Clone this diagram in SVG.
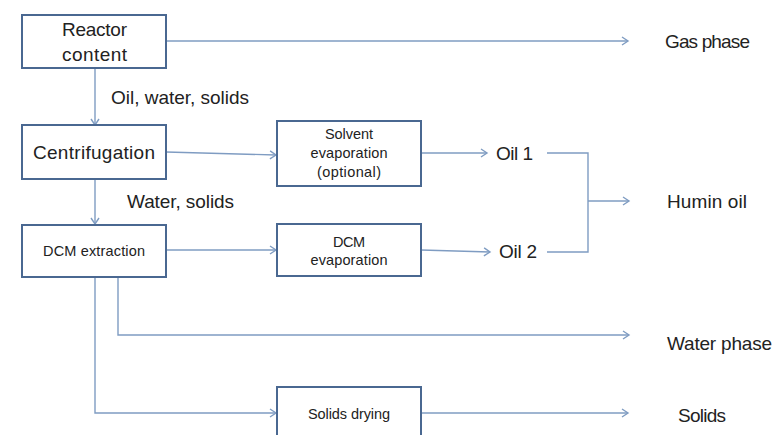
<svg xmlns="http://www.w3.org/2000/svg" width="774" height="435" viewBox="0 0 774 435">
<defs>
<marker id="arr" markerWidth="10" markerHeight="10" refX="8" refY="5" orient="auto" markerUnits="userSpaceOnUse">
<path d="M2,1 L8,5 L2,9" fill="none" stroke="#7f9cc2" stroke-width="1.4"/>
</marker>
</defs>
<style>
.box{fill:#fff;stroke:#4a6891;stroke-width:2}
.c{fill:none;stroke:#7f9cc2;stroke-width:1.4}
.L{font-family:"Liberation Sans",Arial,sans-serif;font-size:19px;fill:#222}
.S{font-family:"Liberation Sans",Arial,sans-serif;font-size:14.5px;fill:#222}
</style>
<rect width="774" height="435" fill="#fff"/>
<g id="connectors">
<path class="c" d="M166,41 H628" marker-end="url(#arr)"/>
<path class="c" d="M95,68 V125" marker-end="url(#arr)"/>
<path class="c" d="M166,152 L276,155" marker-end="url(#arr)"/>
<path class="c" d="M95,179 V224" marker-end="url(#arr)"/>
<path class="c" d="M421,153 H487" marker-end="url(#arr)"/>
<path class="c" d="M166,250 H276" marker-end="url(#arr)"/>
<path class="c" d="M421,250 L490,252" marker-end="url(#arr)"/>
<path class="c" d="M547,153 H588 V252 H547"/>
<path class="c" d="M588,201 H629" marker-end="url(#arr)"/>
<path class="c" d="M118,277 V335 H629" marker-end="url(#arr)"/>
<path class="c" d="M95,277 V413 H276" marker-end="url(#arr)"/>
<path class="c" d="M421,413 H628" marker-end="url(#arr)"/>
</g>
<g id="reactor">
<rect class="box" x="22" y="15" width="144" height="53"/>
<text class="L" x="94.5" y="36" text-anchor="middle" textLength="65">Reactor</text>
<text class="L" x="94.5" y="61" text-anchor="middle" textLength="65">content</text>
</g>
<g id="centrifugation">
<rect class="box" x="22" y="125" width="144" height="54"/>
<text class="L" x="94" y="159" text-anchor="middle" textLength="122">Centrifugation</text>
</g>
<g id="dcm-extraction">
<rect class="box" x="22" y="225" width="144" height="52"/>
<text class="S" x="94" y="256" text-anchor="middle" textLength="102">DCM extraction</text>
</g>
<g id="solvent-evap">
<rect class="box" x="277" y="121" width="144" height="65"/>
<text class="S" x="349" y="139" text-anchor="middle" textLength="48">Solvent</text>
<text class="S" x="349" y="158" text-anchor="middle" textLength="77">evaporation</text>
<text class="S" x="349" y="177" text-anchor="middle" textLength="64">(optional)</text>
</g>
<g id="dcm-evap">
<rect class="box" x="277" y="224" width="144" height="52"/>
<text class="S" x="349" y="247" text-anchor="middle" textLength="32">DCM</text>
<text class="S" x="349" y="265" text-anchor="middle" textLength="77">evaporation</text>
</g>
<g id="solids-drying">
<rect class="box" x="277" y="387" width="144" height="60"/>
<text class="S" x="349" y="419" text-anchor="middle" textLength="82">Solids drying</text>
</g>
<g id="labels">
<text class="L" x="111" y="104" textLength="138">Oil, water, solids</text>
<text class="L" x="127" y="208" textLength="107">Water, solids</text>
</g>
<g id="gas-phase"><text class="L" x="665" y="48" textLength="85">Gas phase</text></g>
<g id="oil1"><text class="L" x="496" y="160" textLength="37">Oil 1</text></g>
<g id="oil2"><text class="L" x="499" y="258" textLength="38">Oil 2</text></g>
<g id="humin-oil"><text class="L" x="667" y="208" textLength="80">Humin oil</text></g>
<g id="water-phase"><text class="L" x="667" y="350" textLength="105">Water phase</text></g>
<g id="solids"><text class="L" x="678" y="422" textLength="48">Solids</text></g>
</svg>
